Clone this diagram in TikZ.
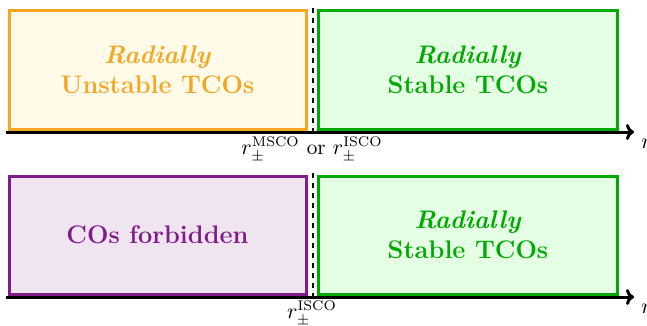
\documentclass[tikz,border=0pt]{standalone}
\usetikzlibrary{arrows.meta}
\definecolor{orA}{RGB}{245,166,35}
\definecolor{orF}{RGB}{255,251,232}
\definecolor{grA}{RGB}{0,170,0}
\definecolor{grF}{RGB}{228,255,228}
\definecolor{puA}{RGB}{128,28,138}
\definecolor{puF}{RGB}{241,228,241}
\begin{document}
\begin{tikzpicture}[x=0.5pt,y=-0.5pt,
  region/.style={draw, line width=1.5pt, minimum height=59pt, inner sep=0pt, align=center, font=\fontsize{12.7}{15}\selectfont\bfseries},
  leftbox/.style={region, minimum width=148.5pt},
  rightbox/.style={region, minimum width=149.5pt},
  axis/.style={line width=1.5pt, -{To[length=4pt,width=8pt]}},
  sep/.style={line width=1.4pt, dash pattern=on 2.5pt off 2.5pt},
  lbl/.style={inner sep=1pt, font=\fontsize{10.6}{12.7}\selectfont}]
\useasboundingbox (0,0) rectangle (647,326);
% top row
\node[leftbox, draw=orA, fill=orF, text=orA] (ua) at (157.5,70) {\textit{Radially}\\Unstable TCOs};
\node[rightbox, draw=grA, fill=grF, text=grA] (sa) at (468,70) {\textit{Radially}\\Stable TCOs};
\coordinate (a0) at (6,132);
\coordinate (a1) at (634,132);
\draw[axis] (a0) -- (a1);
\node[lbl, anchor=north west] (ra) at (639,137) {$r$};
\coordinate (d0) at (313,8);
\coordinate (d1) at (313,131);
\draw[sep] (d0) -- (d1);
\node[lbl, anchor=north] (la) at (312,135) {$r_\pm^{\mathrm{MSCO}}$ or $r_\pm^{\mathrm{ISCO}}$};
% bottom row
\node[leftbox, draw=puA, fill=puF, text=puA] (fb) at (157.5,235) {COs forbidden};
\node[rightbox, draw=grA, fill=grF, text=grA] (sb) at (468,235) {\textit{Radially}\\Stable TCOs};
\coordinate (b0) at (6,297);
\coordinate (b1) at (634,297);
\draw[axis] (b0) -- (b1);
\node[lbl, anchor=north west] (rb) at (639,302) {$r$};
\coordinate (e0) at (313,173);
\coordinate (e1) at (313,296);
\draw[sep] (e0) -- (e1);
\node[lbl, anchor=north] (lb) at (312,299) {$r_\pm^{\mathrm{ISCO}}$};
\end{tikzpicture}
\end{document}
